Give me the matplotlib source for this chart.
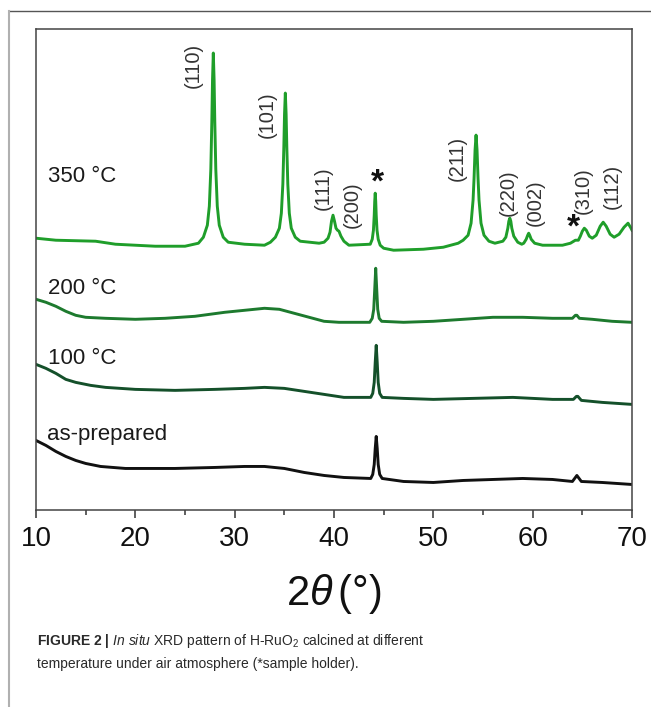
import matplotlib
matplotlib.use("Agg")
import matplotlib.pyplot as plt
from matplotlib.lines import Line2D

plt.rcParams['font.family'] = ['Liberation Sans', 'DejaVu Sans']
plt.rcParams['mathtext.fontset'] = 'custom'
plt.rcParams['mathtext.rm'] = 'Liberation Sans'
plt.rcParams['mathtext.it'] = 'Liberation Sans:italic'
plt.rcParams['mathtext.bf'] = 'Liberation Sans:bold'

# 2theta (deg) / intensity (a.u., stacked)
tt_350 = [10, 12, 16, 18, 22, 25, 26.35, 26.85, 27.25, 27.45, 27.6, 27.7, 27.77, 27.85, 27.93, 28.0,
          28.1, 28.25, 28.45, 28.85, 29.35, 31, 33, 33.6, 34.1, 34.5, 34.7, 34.85, 34.95, 35.02,
          35.1, 35.18, 35.25, 35.35, 35.5, 35.7, 36.1, 36.6, 38.5, 39.0, 39.4, 39.6, 39.75, 39.9,
          40.05, 40.2, 40.35, 40.5, 40.7, 41.0, 41.5, 43.65, 43.85, 43.97, 44.05, 44.1, 44.15, 44.2,
          44.25, 44.33, 44.45, 44.65, 45, 46, 49, 51, 52.5, 53.0, 53.5, 53.8, 54.0, 54.1, 54.2, 54.3,
          54.4, 54.5, 54.6, 54.8, 55.1, 55.6, 56.2, 57.0, 57.3, 57.5, 57.6, 57.7, 57.8, 57.9, 58.1,
          58.5, 58.9, 59.1, 59.35, 59.5, 59.6, 59.7, 59.85, 60.2, 61, 63, 63.8, 64.3, 64.6, 64.8,
          65.0, 65.2, 65.4, 65.7, 66.0, 66.4, 66.8, 67.1, 67.4, 67.8, 68.2, 68.7, 69.2, 69.6, 69.9, 70]
i_350 = [271, 269, 268, 265, 263, 263, 266, 272, 284, 303, 340, 387, 429, 456, 429, 387,
         340, 303, 284, 272, 267, 265, 264, 267, 272, 281, 296, 325, 362, 395,
         416, 395, 362, 325, 296, 281, 272, 268, 266, 267, 271, 277, 288, 294,
         288, 281, 279, 278, 273, 268, 264, 265, 270, 279, 294, 308, 316, 308,
         294, 279, 270, 264, 261, 259, 260, 262, 266, 269, 274, 286, 309, 331, 359, 374,
         359, 331, 309, 286, 274, 268, 266, 268, 272, 281, 288, 291, 288, 281, 273,
         267, 265, 266, 270, 274, 276, 274, 270, 266, 264, 264, 266, 269, 269, 273,
         278, 281, 279, 273, 271, 274, 283, 287, 283, 275, 272, 275, 282, 286, 281, 279]

tt_200 = [10, 11, 12, 13, 14, 15, 17, 20, 23, 26, 29, 31, 33, 34.5, 36, 37.5, 39, 40.5, 43.6,
          43.85, 44.0, 44.1, 44.2, 44.3, 44.4, 44.55, 44.8, 47, 50, 53, 56, 59, 62, 64.0, 64.3,
          64.45, 64.7, 66, 68, 70]
i_200 = [210, 207, 203, 198, 194, 192, 191, 190, 191, 193, 197, 199, 201, 200, 196, 192, 188, 187, 187,
         191, 200, 220, 241, 220, 200, 191, 188, 187, 188, 190, 192, 192, 191, 191, 194,
         194, 191, 190, 188, 187]

tt_100 = [10, 11, 12, 13, 14, 15.5, 17, 20, 24, 28, 31, 33, 35, 37, 39, 41, 43.7, 43.9, 44.05,
          44.15, 44.25, 44.35, 44.45, 44.6, 44.85, 47, 50, 54, 58, 62, 64.1, 64.4, 64.55, 64.9, 67, 70]
i_100 = [145, 141, 136, 130, 127, 124, 122, 120, 119, 120, 121, 122, 121, 118, 115, 112, 112, 116, 127,
         147, 164, 147, 127, 116, 112, 111, 110, 111, 112, 110, 110, 113, 113, 109, 107, 105]

tt_asp = [10, 11, 12, 13, 14, 15, 16.5, 19, 24, 28, 31, 33, 35, 37, 39, 41, 43.7, 43.9, 44.05,
          44.15, 44.25, 44.35, 44.45, 44.6, 44.85, 47, 50, 53, 56, 59, 62, 64.0, 64.3, 64.45, 64.6,
          64.9, 67, 70]
i_asp = [69, 64, 58, 53, 49, 46, 43, 41, 41, 42, 43, 43, 41, 37, 34, 32, 31, 35, 45,
         61, 73, 61, 45, 35, 31, 28, 27, 29, 30, 31, 30, 28, 32, 34, 32,
         28, 27, 25]

curve_names = ['350 °C', '200 °C', '100 °C', 'as-prepared']
curve_colors = ['#1f9e2a', '#1d7a2e', '#14502a', '#111111']
name_pos = [(11.2, 333), (11.2, 221), (11.2, 151), (11.1, 75)]

hkl_labels = ['(110)', '(101)', '(111)', '(200)', '(211)', '(220)', '(002)', '(310)', '(112)']
hkl_x = [25.8, 33.3, 38.9, 41.8, 52.4, 57.5, 60.3, 65.1, 68.0]
hkl_y = [444, 394, 321, 304, 351, 316, 306, 319, 323]
star_x = [44.4, 64.1]
star_y = [326, 281]

W, H = 651, 707
fig = plt.figure(figsize=(W / 100, H / 100), dpi=100)
ax = fig.add_axes([36 / W, 1 - 509.5 / H, 596 / W, 480.5 / H])

series = [(tt_350, i_350), (tt_200, i_200), (tt_100, i_100), (tt_asp, i_asp)]
for (tt, inten), c in zip(series, curve_colors):
    ax.plot(tt, inten, color=c, lw=2.1, solid_joinstyle='round')

for name, (px, py) in zip(curve_names, name_pos):
    ax.text(px, py, name, fontsize=16, color='#1a1a1a', ha='left', va='center')

for lab, px, py in zip(hkl_labels, hkl_x, hkl_y):
    ax.text(px, py, lab, fontsize=14.5, rotation=90, color='#333333', ha='center', va='center')
for px, py in zip(star_x, star_y):
    ax.text(px, py, '*', fontsize=24, fontweight='bold', color='#111111', ha='center', va='center')

ax.set_xlim(10, 70)
ax.set_ylim(0, 480)
ax.set_xticks(range(10, 71, 10))
ax.set_xticks(range(15, 70, 10), minor=True)
ax.set_yticks([])
ax.tick_params(axis='x', which='major', direction='out', length=6, width=1.1,
               labelsize=20, pad=6, colors='#333333', labelcolor='#111111')
ax.tick_params(axis='x', which='minor', direction='out', length=3.8, width=1.1, colors='#333333')
for sp in ax.spines.values():
    sp.set_linewidth(1.1)
    sp.set_color('#444444')

ax.set_xlabel(r'2$\theta\,$(°)', fontsize=30, labelpad=14, color='#111111')

# panel border lines
fig.add_artist(Line2D([9 / W, 1], [1 - 10.7 / H] * 2, color='#555555', lw=1.0))
fig.add_artist(Line2D([9 / W] * 2, [0, 1 - 10.7 / H], color='#b0b0b0', lw=1.5))

fig.text(37 / W, 1 - 641 / H, r'$\mathbf{FIGURE\ 2\ |}$ $\mathit{In\ situ}$ XRD pattern of H-RuO$_2$ calcined at different',
         fontsize=10, color='#2a2a2a', ha='left', va='center')
fig.text(37 / W, 1 - 664 / H, 'temperature under air atmosphere (*sample holder).',
         fontsize=10, color='#2a2a2a', ha='left', va='center')

fig.savefig('out.png', dpi=100)
